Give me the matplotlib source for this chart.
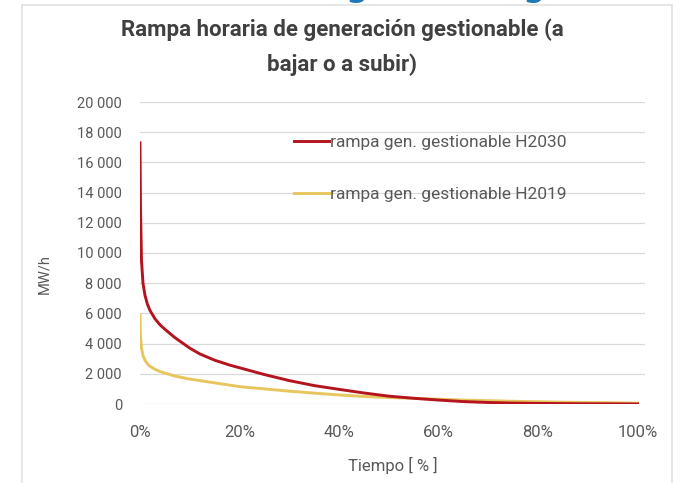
import matplotlib
matplotlib.use('Agg')
import matplotlib.pyplot as plt
from matplotlib.patches import Rectangle
from matplotlib.ticker import FuncFormatter

# Datos
tiempo_pct = [0, 0.1, 0.3, 0.6, 1, 1.5, 2, 3, 4, 5, 7, 10, 12, 15, 18, 20, 25, 30, 35,
              40, 45, 50, 55, 60, 65, 70, 75, 80, 85, 90, 95, 100]
rampa_h2030 = [17300, 13000, 9500, 8000, 7200, 6600, 6200, 5650, 5250, 4950, 4400, 3700,
               3320, 2900, 2580, 2400, 1950, 1550, 1220, 970, 730, 520, 380, 260, 160,
               100, 60, 40, 25, 15, 10, 0]
rampa_h2019 = [5900, 4500, 3700, 3200, 2900, 2650, 2500, 2300, 2150, 2050, 1850, 1650,
               1550, 1400, 1250, 1150, 1000, 850, 720, 600, 500, 430, 370, 320, 260,
               220, 180, 150, 120, 100, 80, 50]
y_ticks = list(range(0, 20001, 2000))
x_ticks = [0, 20, 40, 60, 80, 100]

plt.rcParams['font.family'] = ['Roboto', 'DejaVu Sans']
gris = '#595959'

fig = plt.figure(figsize=(6.83, 4.83), dpi=100)
fig.patch.set_facecolor('white')

# marco de la captura
fig.patches.append(Rectangle((22 / 683, -0.01), 650 / 683, 1 - 5 / 483 + 0.01,
                             transform=fig.transFigure, facecolor='white',
                             edgecolor='#e2e2e2', lw=1.2, zorder=-5))

# restos de texto azul cortado arriba
for xg in [357, 534]:
    fig.text(xg / 683, 1 + 5 / 483, 'g', color='#1f77b8', fontsize=28,
             ha='center', va='baseline', family=['DejaVu Sans'])

ax = fig.add_axes([140 / 683, 1 - 404 / 483, 505 / 683, 302 / 483])
ax.set_facecolor('none')

ax.plot(tiempo_pct, rampa_h2030, color='#B3141E', lw=2.1, label='rampa gen. gestionable H2030', zorder=3)
ax.plot(tiempo_pct, rampa_h2019, color='#E8C65E', lw=2.1, label='rampa gen. gestionable H2019', zorder=2)

ax.set_xlim(0, 101.5)
ax.set_ylim(0, 20000)
ax.set_yticks(y_ticks)
ax.set_xticks(x_ticks)
ax.yaxis.set_major_formatter(FuncFormatter(lambda v, p: f'{int(v):,}'.replace(',', ' ')))
ax.xaxis.set_major_formatter(FuncFormatter(lambda v, p: f'{int(v)}%'))
ax.tick_params(axis='both', length=0, colors=gris)
ax.tick_params(axis='y', pad=13, labelsize=10.5)
ax.tick_params(axis='x', pad=15, labelsize=12)

ax.grid(axis='y', color='#d9d9d9', lw=0.9)
ax.set_axisbelow(True)
for s in ax.spines.values():
    s.set_visible(False)

ax.set_ylabel('MW/h', color=gris, fontsize=10.5)
ax.yaxis.set_label_coords(-0.175, 0.43)
ax.set_xlabel('Tiempo [ % ]', color=gris, fontsize=12, labelpad=12)

fig.text(342 / 683, 1 - 30 / 483, 'Rampa horaria de generación gestionable (a',
         ha='center', va='center', fontsize=16, fontweight='bold', color='#404040')
fig.text(342 / 683, 1 - 65 / 483, 'bajar o a subir)',
         ha='center', va='center', fontsize=16, fontweight='bold', color='#404040')

leg = ax.legend(loc='upper left', bbox_to_anchor=(0.305, 0.89), frameon=False,
                fontsize=12.5, handlelength=2.0, handletextpad=0.1, labelspacing=2.1,
                borderpad=0, borderaxespad=0)
for t in leg.get_texts():
    t.set_color(gris)

fig.savefig('out.png', dpi=100)
